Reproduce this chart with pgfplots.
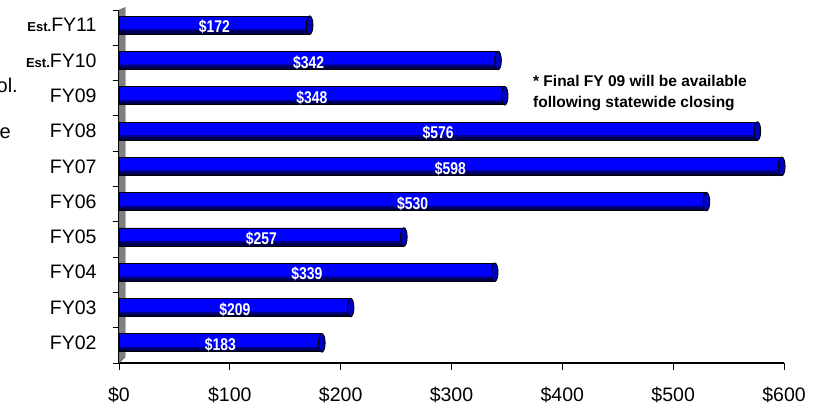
\documentclass[border=0pt]{standalone}
\usepackage{fontspec}
\setmainfont{Liberation Sans}
\usepackage{graphicx}
\usepackage{pgfplots}
\pgfplotsset{compat=1.18}
\usepackage{pgfplotstable}
\pgfdeclareplotmark{cap}{\pgfpathellipse{\pgfpointorigin}{\pgfqpoint{3.3bp}{0pt}}{\pgfqpoint{0pt}{9.3bp}}\pgfusepathqfillstroke}
\newcommand\est{\fontsize{13bp}{13bp}\selectfont\bfseries}
\pgfplotstableread{
idx val
0 183
1 209
2 339
3 257
4 530
5 598
6 576
7 348
8 342
9 172
}\data

\begin{document}
\begin{tikzpicture}
\useasboundingbox (0,0) rectangle (821bp,411bp);
\node[anchor=base east, inner sep=0pt, font=\fontsize{20bp}{24bp}\selectfont] at (18bp,318bp) {ol.};
\node[anchor=base east, inner sep=0pt, font=\fontsize{20bp}{24bp}\selectfont] at (11bp,272bp) {e};
\begin{axis}[
  at={(119bp,48bp)}, anchor=south west,
  width=665bp, height=353bp, scale only axis,
  xmin=0, xmax=600, ymin=-0.57, ymax=9.43,
  clip=false,
  axis x line*=bottom, axis y line*=left,
  x axis line style={-, line width=1.4bp, black},
  y axis line style={-, line width=1.1bp, black},
  tick align=outside,
  major tick length=6.5bp,
  tick style={black, line width=0.9bp},
  /pgf/number format/assume math mode=true,
  tick label style={font=\fontsize{19.5bp}{23bp}\selectfont},
  xtick={0,100,200,300,400,500,600},
  xticklabels={\$0,\$100,\$200,\$300,\$400,\$500,\$600},
  xticklabel style={yshift=-14bp},
  ytick={-0.57,0.43,1.43,2.43,3.43,4.43,5.43,6.43,7.43,8.43,9.43},
  yticklabels={{},{},{},{},{},{},{},{},{},{},{}},
  extra y ticks={0,1,2,3,4,5,6,7,8,9},
  extra y tick labels={FY02,FY03,FY04,FY05,FY06,FY07,FY08,FY09,{{\est Est.}FY10},{{\est Est.}FY11}},
  extra y tick style={major tick length=0pt, yticklabel style={xshift=-19bp}},
]
\fill[black!50, draw=black!70, line width=0.4bp] (axis cs:0,-0.57) -- (axis cs:5.6,-0.40) -- (axis cs:5.6,9.50) -- (axis cs:0,9.43) -- cycle;
% bar body
\addplot[xbar, bar width=18bp, fill=blue, draw=none]
  table[x=val, y=idx]{\data};
% darker lower band (cylinder shading)
\addplot[xbar, bar width=5bp, bar shift=-6.5bp, fill=blue!55!black, draw=none]
  table[x=val, y=idx]{\data};
\addplot[xbar, bar width=3bp, bar shift=-7.5bp, fill=blue!30!black, draw=none]
  table[x=val, y=idx]{\data};
% outline
\addplot[xbar, bar width=18bp, fill=none, draw=black, line width=0.9bp]
  table[x=val, y=idx]{\data};
\addplot[only marks, mark=cap, mark options={fill=blue!75!black, draw=black, line width=0.9bp}]
  table[x=val, y=idx]{\data};
\addplot[draw=none, mark=none, point meta=explicit,
  nodes near coords={\scalebox{0.82}[1]{\$\pgfmathprintnumber{\pgfplotspointmeta}}},
  every node near coord/.append style={anchor=center, yshift=-2bp, text=white,
    font=\fontsize{17bp}{18bp}\selectfont\bfseries}]
  table[x expr=\thisrow{val}/2, y=idx, meta=val]{\data};
\node[anchor=west, align=left, inner sep=0pt, font=\fontsize{15.5bp}{21bp}\selectfont\bfseries]
  at (axis cs:373.5,7.09) {* Final FY 09 will be available\\following statewide closing};
\end{axis}
\end{tikzpicture}
\end{document}
